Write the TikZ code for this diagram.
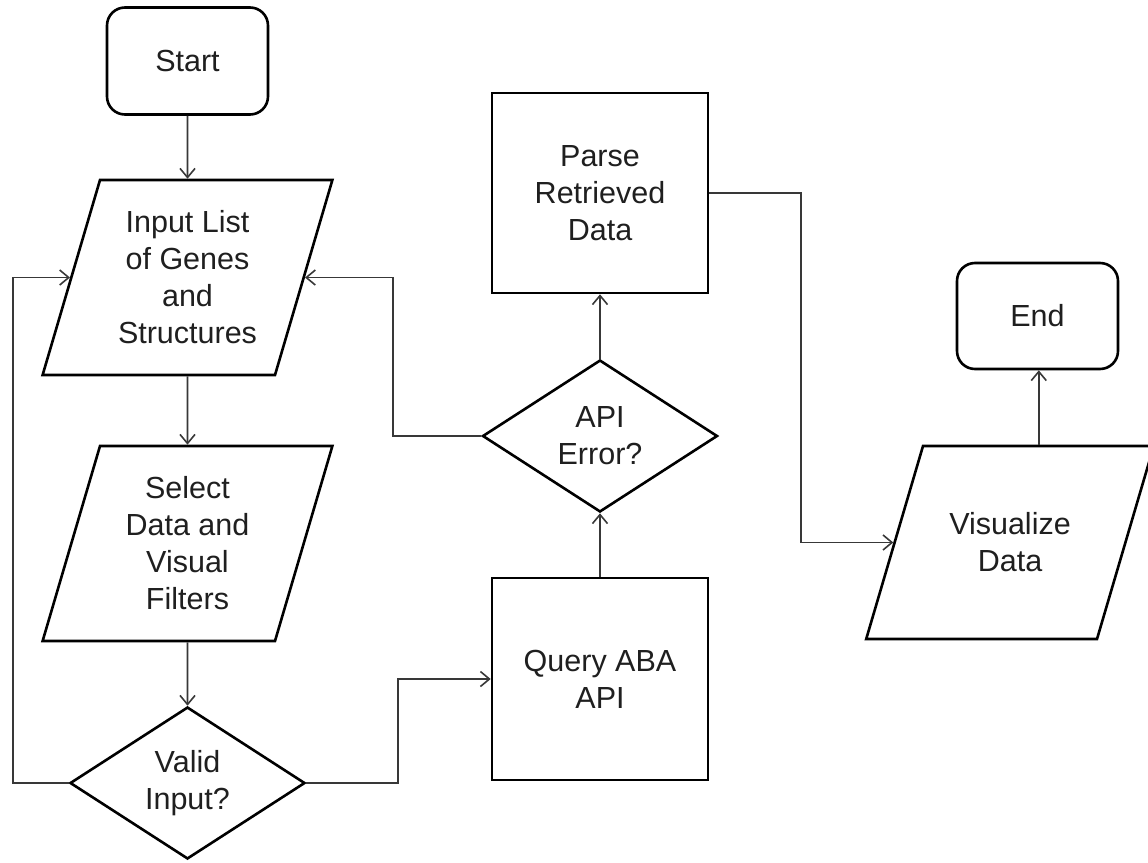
\documentclass[tikz,border=0pt]{standalone}
\usepackage{fontspec}
\setmainfont{Liberation Sans}
\usetikzlibrary{shapes.geometric,arrows.meta}
\newcommand\iotext[3]{\parbox[c][#1][c]{#2}{\centering #3}}
\begin{document}
\begin{tikzpicture}[x=1pt,y=-1pt,
  every node/.style={font=\fontsize{30.5}{37}\selectfont, text=black!88, align=center, inner sep=0pt},
  shapeline/.style={draw=black, line width=2.6pt},
  term/.style={shapeline, rounded corners=18pt, minimum width=161pt, minimum height=107pt},
  procbox/.style={shapeline, minimum width=216pt, minimum height=202pt},
  iobox/.style={shapeline, trapezium, trapezium left angle=73.6, trapezium right angle=106.4, inner sep=0pt},
  decision/.style={shapeline, diamond, shape aspect=1.55, minimum width=235pt, minimum height=152pt},
  conn/.style={draw=black!78, line width=1.6pt, -{Straight Barb[length=9pt,width=15pt]}}
]
\path[use as bounding box, fill=white] (0,0) rectangle (1148,862);

\node[term] (start) at (187.5,61) {Start};
\node[iobox] (input) at (187.5,277.5) {\iotext{195pt}{175pt}{Input List\\of Genes\\and\\Structures}};
\node[iobox] (select) at (187.5,543.5) {\iotext{195pt}{175pt}{Select\\Data and\\Visual\\Filters}};
\node[decision] (valid) at (187.5,783) {Valid\\Input?};
\node[procbox] (query) at (600,679) {Query ABA\\API};
\node[decision] (api) at (600,436) {API\\Error?};
\node[procbox, minimum height=200pt] (parse) at (600,193) {Parse\\Retrieved\\Data};
\node[iobox] (vis) at (1010,542.5) {\iotext{193pt}{174pt}{Visualize\\Data}};
\node[term, minimum height=106pt] (endn) at (1037.5,316) {End};

\coordinate (lx) at (13,0);
\coordinate (mx) at (398,0);
\coordinate (ax) at (393,0);
\coordinate (px) at (801,0);

\draw[conn] (start) -- (input);
\draw[conn] (input) -- (select);
\draw[conn] (select) -- (valid);
\draw[conn] (valid.west) -- (valid.west -| lx) |- (input.left side);
\draw[conn] (valid.east) -- (valid.east -| mx) |- (query.west);
\draw[conn] (query) -- (api);
\draw[conn] (api) -- (parse);
\draw[conn] (api.west) -- (api.west -| ax) |- (input.right side);
\draw[conn] (parse.east) -- (parse.east -| px) |- (vis.left side);
\draw[conn] (vis.top side) -- (vis.top side |- endn.south);
\end{tikzpicture}
\end{document}
